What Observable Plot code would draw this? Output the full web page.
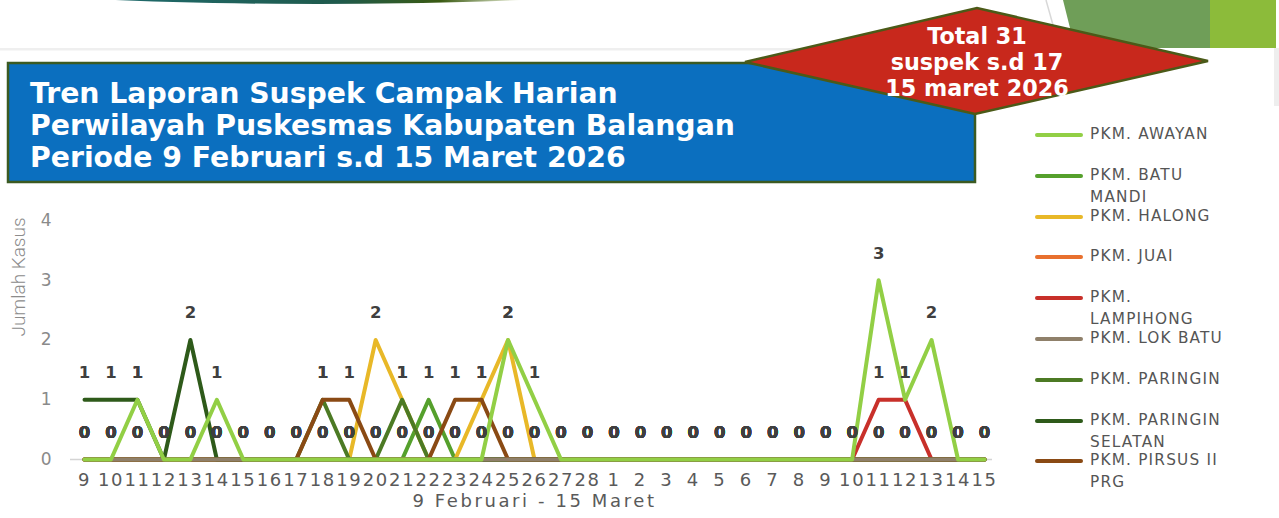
<!DOCTYPE html>
<html>
<head>
<meta charset="utf-8">
<script src="https://cdn.jsdelivr.net/npm/d3@7"></script>
<script src="https://cdn.jsdelivr.net/npm/@observablehq/plot@0.6"></script>
<style>
  html, body { margin: 0; padding: 0; background: #fff; overflow: hidden; }
  #page { position: relative; width: 1279px; height: 518px; font-family: "DejaVu Sans", sans-serif; }
  #deco { position: absolute; left: 0; top: 0; }
  #chart { position: absolute; left: 0; top: 200px; }
  #legend { position: absolute; left: 1035px; top: 0; }
  .item { position: absolute; left: 0; width: 244px; }
  .sw { position: absolute; left: 0; width: 48px; height: 4px; border-radius: 2px; }
  .lab { position: absolute; left: 55px; top: -10px; font-size: 15.3px; line-height: 22px; letter-spacing: 1.2px; color: #555; white-space: pre; font-weight: normal; }
</style>
</head>
<body>
<div id="page">
  <svg id="deco" width="1279" height="200">
    <defs>
      <linearGradient id="topg" gradientUnits="userSpaceOnUse" x1="115" x2="522" y1="0" y2="0">
        <stop offset="0" stop-color="#1f6a6c"/>
        <stop offset="0.55" stop-color="#1f5a4c"/>
        <stop offset="0.8" stop-color="#3a5a12"/>
        <stop offset="1" stop-color="#f2f5e0"/>
      </linearGradient>
    </defs>
    <ellipse cx="318" cy="-30" rx="430" ry="34" fill="url(#topg)"/>
    <rect x="0" y="48" width="1045" height="2.5" fill="#efefef"/>
    <line x1="1046" y1="0" x2="1060" y2="50" stroke="#d8d8d8" stroke-width="1.5"/>
    <polygon points="1063,0 1210,0 1210,48 1075,48" fill="#6f9e58"/>
    <rect x="1210" y="0" width="66" height="48" fill="#8cbb3a"/>
    <rect x="1274" y="48" width="5" height="58" fill="#eeeeee"/>
    <rect x="8" y="63" width="967" height="119" fill="#0b6fbf" stroke="#3b5a22" stroke-width="2.5"/>
    <g fill="#ffffff" font-family="DejaVu Sans, sans-serif" font-weight="bold" font-size="28.3">
      <text x="30" y="103">Tren Laporan Suspek Campak Harian</text>
      <text x="30" y="135">Perwilayah Puskesmas Kabupaten Balangan</text>
      <text x="30" y="167">Periode 9 Februari s.d 15 Maret 2026</text>
    </g>
    <polygon points="745,62 977,8 1208,61 975,114" fill="#c8281c" stroke="#4b5a18" stroke-width="2.5"/>
    <g fill="#ffffff" font-family="DejaVu Sans, sans-serif" font-weight="bold" font-size="22.3" text-anchor="middle">
      <text x="977" y="44">Total 31</text>
      <text x="977" y="70">suspek s.d 17</text>
      <text x="977" y="96">15 maret 2026</text>
    </g>
  </svg>
  <div id="chart"></div>
  <div id="legend"></div>
</div>
<script>
// ---- data ----
const dayLabels = ["9","10","11","12","13","14","15","16","17","18","19","20","21","22","23","24","25","26","27","28",
                   "1","2","3","4","5","6","7","8","9","10","11","12","13","14","15"];
const xTitle = "9 Februari - 15 Maret";
const yTitle = "Jumlah Kasus";
const yTicks = [0, 1, 2, 3, 4];

const seriesNames = ["PKM. AWAYAN","PKM. BATU MANDI","PKM. HALONG","PKM. JUAI","PKM. LAMPIHONG",
                     "PKM. LOK BATU","PKM. PARINGIN","PKM. PARINGIN SELATAN","PKM. PIRSUS II PRG"];
const legendLabels = ["PKM. AWAYAN","PKM. BATU\nMANDI","PKM. HALONG","PKM. JUAI","PKM.\nLAMPIHONG",
                      "PKM. LOK BATU","PKM. PARINGIN","PKM. PARINGIN\nSELATAN","PKM. PIRSUS II\nPRG"];
const seriesColors = ["#92cf45","#55a02c","#e8b828","#e8702e","#c8302a","#8f806a","#4c7a24","#2e5a1a","#8a4a14"];

const awayan          = [0,0,1,0,0,1,0,0,0,0, 0,0,0,0,0,0,2,1,0,0, 0,0,0,0,0,0,0,0,0,0, 3,1,2,0,0];
const batuMandi       = [0,0,0,0,0,0,0,0,0,0, 0,0,0,1,0,0,0,0,0,0, 0,0,0,0,0,0,0,0,0,0, 0,0,0,0,0];
const halong          = [0,0,0,0,0,0,0,0,0,0, 0,2,1,0,0,1,2,0,0,0, 0,0,0,0,0,0,0,0,0,0, 0,0,0,0,0];
const juai            = [0,0,0,0,0,0,0,0,0,0, 0,0,0,0,0,0,0,0,0,0, 0,0,0,0,0,0,0,0,0,0, 0,0,0,0,0];
const lampihong       = [0,0,0,0,0,0,0,0,0,0, 0,0,0,0,0,0,0,0,0,0, 0,0,0,0,0,0,0,0,0,0, 1,1,0,0,0];
const lokBatu         = [0,0,0,0,0,0,0,0,0,0, 0,0,0,0,0,0,0,0,0,0, 0,0,0,0,0,0,0,0,0,0, 0,0,0,0,0];
const paringin        = [0,0,0,0,0,0,0,0,0,1, 0,0,1,0,0,0,0,0,0,0, 0,0,0,0,0,0,0,0,0,0, 0,0,0,0,0];
const paringinSelatan = [1,1,1,0,2,0,0,0,0,0, 0,0,0,0,0,0,0,0,0,0, 0,0,0,0,0,0,0,0,0,0, 0,0,0,0,0];
const pirsus          = [0,0,0,0,0,0,0,0,0,1, 1,0,0,0,1,1,0,0,0,0, 0,0,0,0,0,0,0,0,0,0, 0,0,0,0,0];

const seriesValues = [awayan, batuMandi, halong, juai, lampihong, lokBatu, paringin, paringinSelatan, pirsus];
// drawing order (last on top)
const drawOrder = [3, 1, 2, 4, 6, 7, 8, 5, 0];

const rows = [];
drawOrder.forEach(k => seriesValues[k].forEach((v, i) => rows.push({series: seriesNames[k], day: i, value: v})));

const chart = Plot.plot({
  width: 1010,
  height: 318,
  marginLeft: 84,
  marginRight: 26,
  marginTop: 20,
  marginBottom: 59,
  style: {fontFamily: "DejaVu Sans, sans-serif", background: "transparent", overflow: "visible"},
  x: {type: "point", domain: d3.range(dayLabels.length), padding: 0, round: false},
  y: {domain: [0, 4]},
  color: {domain: seriesNames, range: seriesColors},
  marks: [
    Plot.ruleY([0], {stroke: "#d4d4d4", strokeWidth: 1.5, insetLeft: -14, insetRight: -8}),
    Plot.axisY({ticks: yTicks, tickSize: 0, tickPadding: 33, fontSize: 17, fill: "#8a8a8a", label: null, tickFormat: d => d}),
    Plot.axisX({tickSize: 0, tickPadding: 14, fontSize: 18, fill: "#5a5a5a", label: null, tickFormat: i => dayLabels[i]}),
    Plot.line(rows, {x: "day", y: "value", z: "series", stroke: "series", strokeWidth: 4, strokeLinejoin: "round", strokeLinecap: "round"}),
    Plot.text(rows, {x: "day", y: "value", text: d => String(d.value), dy: -27, fontSize: 16.5, fontWeight: "bold", fill: "#3f3f3f"}),
    Plot.text([xTitle], {frameAnchor: "bottom", dy: 47, fontSize: 18, fill: "#5a5a5a"}),
    Plot.text([yTitle], {frameAnchor: "left", textAnchor: "middle", dx: -66, dy: -63, rotate: -90, fontSize: 19, fill: "#8c8c8c", fontFamily: "Roboto, sans-serif", fontWeight: 300})
  ]
});
// widen the x tick labels and x title spacing like the reference
d3.select(chart).selectAll('g[aria-label="x-axis tick label"] text').style("letter-spacing", "1.6px");
d3.select(chart).selectAll("text").filter(function() { return this.textContent === xTitle; }).style("letter-spacing", "2.6px");
document.getElementById("chart").appendChild(chart);

// ---- legend ----
const legend = document.getElementById("legend");
seriesNames.forEach((name, k) => {
  const item = document.createElement("div");
  item.className = "item";
  item.style.top = (133 + k * 40.8) + "px";
  const sw = document.createElement("div");
  sw.className = "sw";
  sw.style.background = seriesColors[k];
  const lab = document.createElement("div");
  lab.className = "lab";
  lab.textContent = legendLabels[k];
  item.appendChild(sw);
  item.appendChild(lab);
  legend.appendChild(item);
});
</script>
</body>
</html>
